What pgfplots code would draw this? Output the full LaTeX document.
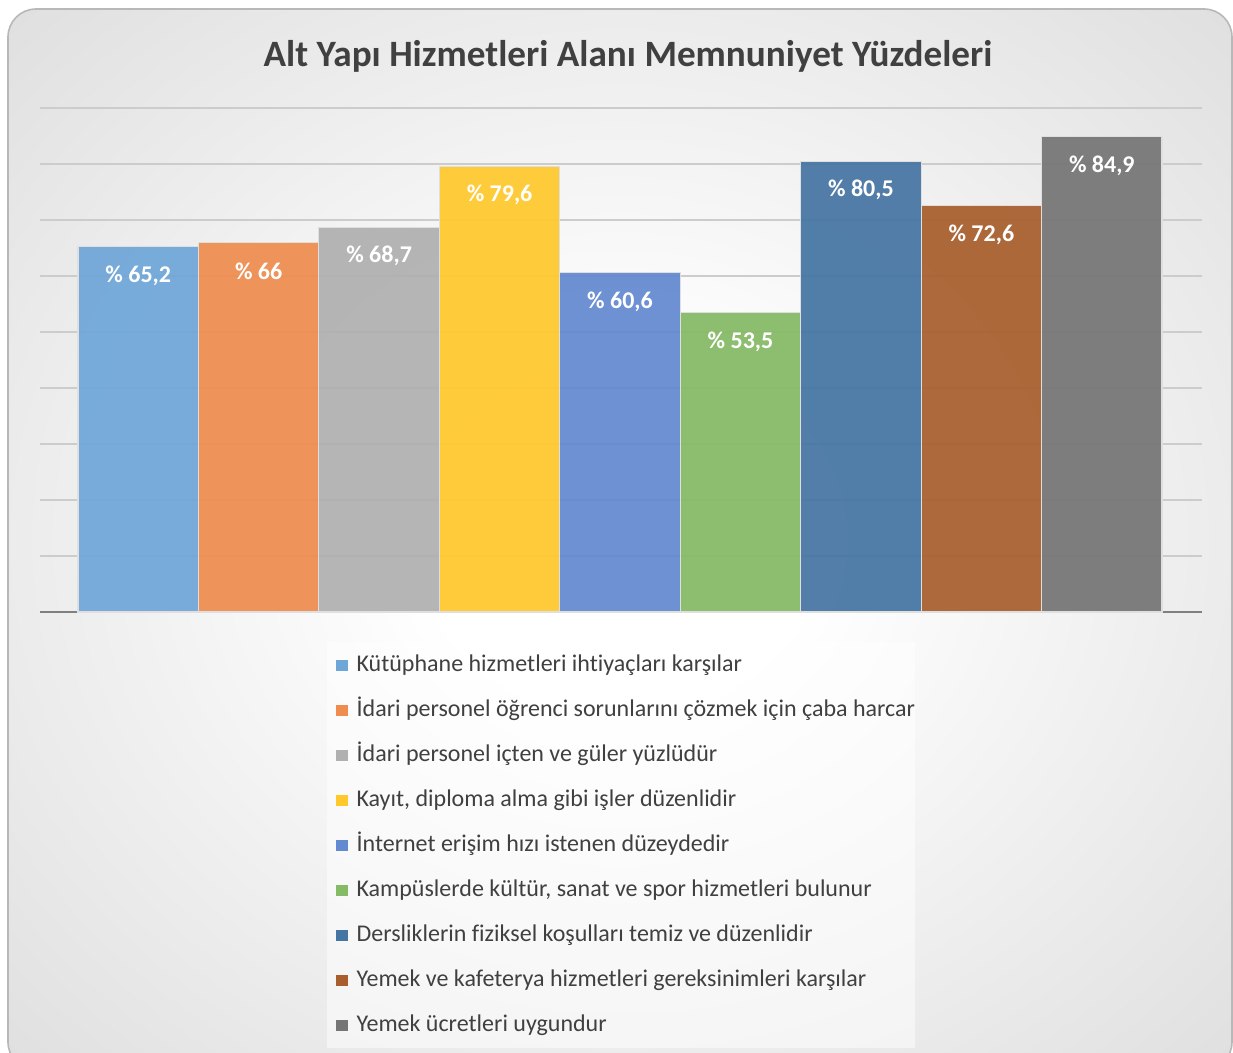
\documentclass[border=0pt]{standalone}
\usepackage{fontspec}
\setmainfont{Carlito}[Ligatures=NoCommon]
\usepackage{pgfplots}
\pgfplotsset{compat=1.18}
\definecolor{c1}{HTML}{6FA6D8}
\definecolor{c2}{HTML}{EE8D4F}
\definecolor{c3}{HTML}{B0B0B0}
\definecolor{c4}{HTML}{FFC82C}
\definecolor{c5}{HTML}{6389D0}
\definecolor{c6}{HTML}{85BA66}
\definecolor{c7}{HTML}{4575A3}
\definecolor{c8}{HTML}{A85E2D}
\definecolor{c9}{HTML}{757575}
\definecolor{txt}{HTML}{404040}
\pgfdeclareradialshading{bgshade}{\pgfpoint{0bp}{0bp}}{color(0bp)=(white); color(8bp)=(white); color(50bp)=(black!19); color(72bp)=(black!25)}
\pgfplotsset{
  mybar/.style={ybar, bar width=60.22pt, bar shift=0pt, draw=white!75!gray, line width=0.6pt, fill opacity=0.93,
    legend image code/.code={\path (0pt,0pt) (14pt,0pt); \path[##1,draw=none,fill opacity=1] (4pt,-2.9pt) rectangle (9.8pt,2.9pt);}},
}
\begin{document}
\begin{tikzpicture}
\path[use as bounding box] (0,0) rectangle (616.5pt,-526.5pt);
\begin{scope}
\clip (0,0) rectangle (616.5pt,-526.5pt);
\shade[shading=bgshade, draw=black!28, line width=0.8pt, rounded corners=14pt] (4pt,-4.5pt) rectangle (616pt,-535pt);
\end{scope}
\begin{axis}[
  at={(20pt,-306pt)}, anchor=south west,
  scale only axis, width=581pt, height=252pt,
  xmin=-0.8155, xmax=8.832, ymin=0, ymax=90,
  xtick=\empty, ytick={10,20,...,90}, yticklabels={}, major tick length=0pt,
  ymajorgrids, grid style={black!20, line width=0.9pt},
  extra y ticks={0}, extra y tick labels={}, extra y tick style={grid style={black!50, line width=1pt}},
  axis line style={draw=none},
  clip=false,
  title={Alt Yapı Hizmetleri Alanı Memnuniyet Yüzdeleri},
  title style={at={(0.506,1.079)}, anchor=center, font=\bfseries\fontsize{18.6}{22}\selectfont, text=txt},
  nodes near coords={\%~\pgfmathprintnumber[use comma]{\pgfplotspointmeta}},
  /pgf/number format/assume math mode=true,
  every node near coord/.append style={anchor=center, yshift=-14.5pt, text=white, fill opacity=1, text opacity=1, font=\bfseries\fontsize{12}{14}\selectfont},
  legend cell align=left,
  legend style={at={(0.247,-0.0595)}, anchor=north west, fill=white, fill opacity=0.5, text opacity=1, draw=none,
    font=\fontsize{12}{14}\selectfont, text=txt, inner xsep=0pt, inner ysep=6pt, row sep=11.5pt, column sep=0pt,
    nodes={inner sep=0pt, text height=8.5pt, text depth=2.5pt}},
]
\addplot[mybar, fill=c1] coordinates {(0,65.2)};
\addlegendentry{Kütüphane hizmetleri ihtiyaçları karşılar}
\addplot[mybar, fill=c2] coordinates {(1,66)};
\addlegendentry{İdari personel öğrenci sorunlarını çözmek için çaba harcar}
\addplot[mybar, fill=c3] coordinates {(2,68.7)};
\addlegendentry{İdari personel içten ve güler yüzlüdür}
\addplot[mybar, fill=c4] coordinates {(3,79.6)};
\addlegendentry{Kayıt, diploma alma gibi işler düzenlidir}
\addplot[mybar, fill=c5] coordinates {(4,60.6)};
\addlegendentry{İnternet erişim hızı istenen düzeydedir}
\addplot[mybar, fill=c6] coordinates {(5,53.5)};
\addlegendentry{Kampüslerde kültür, sanat ve spor hizmetleri bulunur}
\addplot[mybar, fill=c7] coordinates {(6,80.5)};
\addlegendentry{Dersliklerin fiziksel koşulları temiz ve düzenlidir}
\addplot[mybar, fill=c8] coordinates {(7,72.6)};
\addlegendentry{Yemek ve kafeterya hizmetleri gereksinimleri karşılar}
\addplot[mybar, fill=c9] coordinates {(8,84.9)};
\addlegendentry{Yemek ücretleri uygundur}
\end{axis}
\end{tikzpicture}
\end{document}
